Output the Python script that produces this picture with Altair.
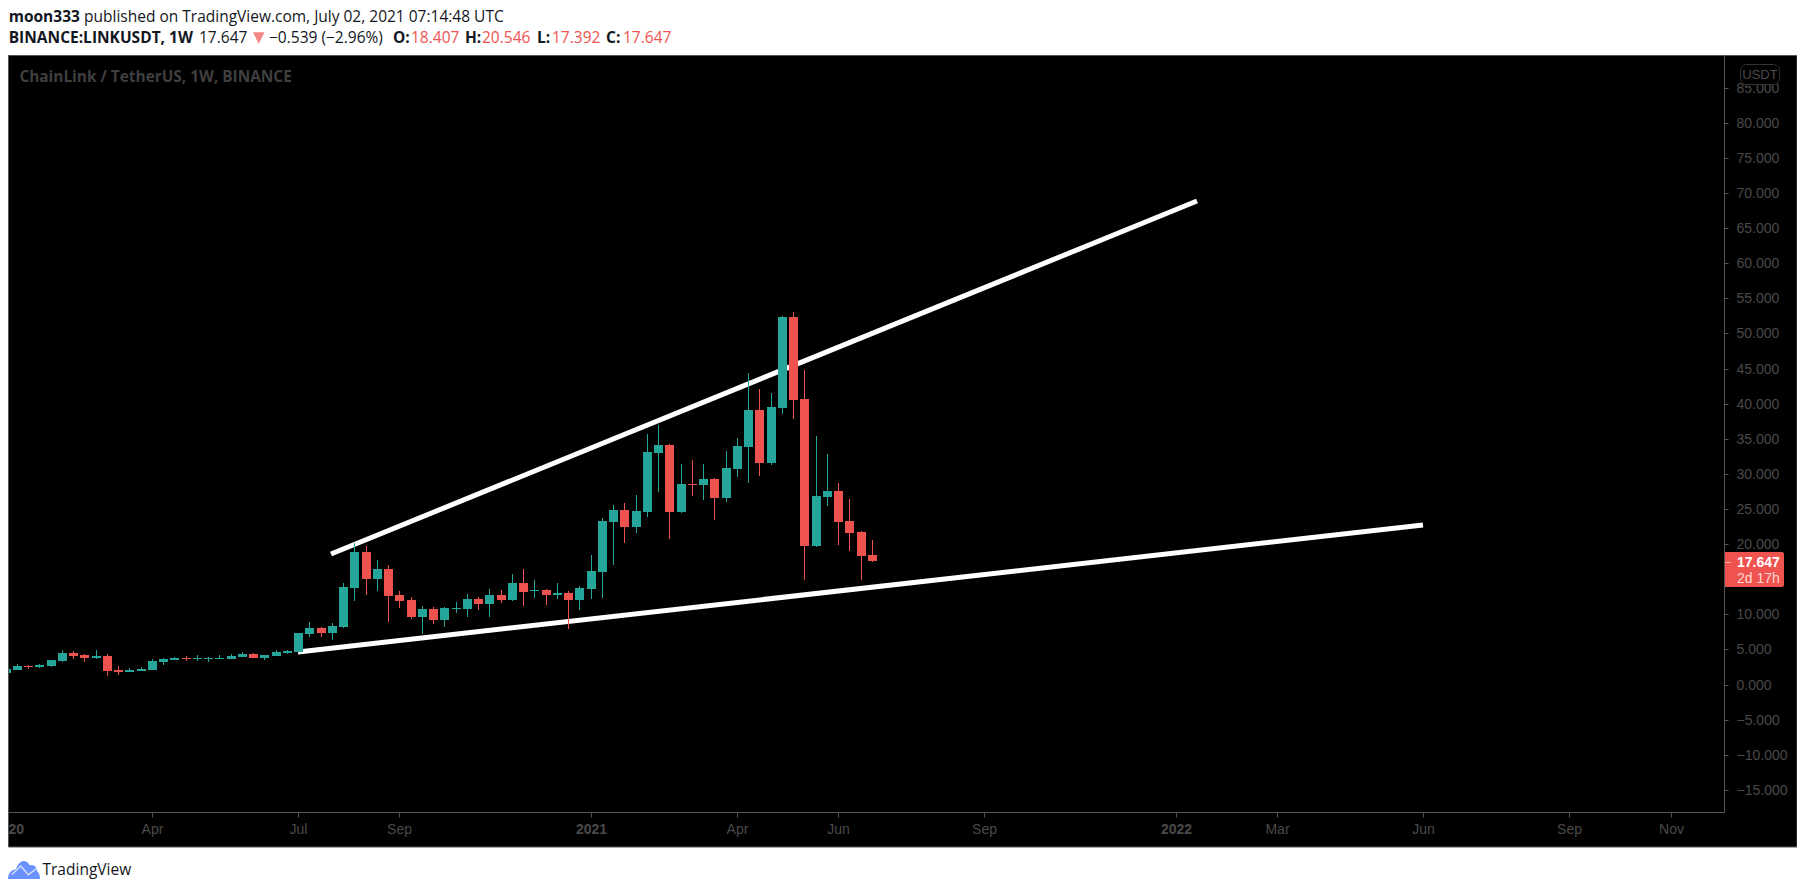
import altair as alt
import pandas as pd

week = list(range(-1, 77))
opens = [1.64,2.07,2.68,2.49,2.64,3.35,4.49,4.20,3.77,4.06,2.07,1.78,1.92,2.07,3.21,3.49,3.77,3.63,3.63,3.63,3.63,3.92,4.34,3.77,4.06,4.49,4.63,7.19,8.05,7.34,8.19,13.75,18.87,15.03,16.45,12.75,12.04,9.62,10.75,9.19,10.75,10.75,12.18,11.47,12.75,12.04,14.46,13.32,13.46,12.75,13.03,12.04,13.60,16.03,23.15,24.86,22.44,24.57,32.98,34.12,24.57,28.56,28.42,29.27,26.57,30.70,33.83,39.10,31.55,39.39,52.35,40.67,19.73,26.71,27.56,23.29,21.72,18.407]
highs = [2.21,2.92,2.78,2.92,3.49,4.91,4.77,4.34,4.91,4.34,2.64,2.35,2.49,3.63,3.77,3.92,4.06,4.20,3.92,4.20,4.34,4.63,4.49,4.20,4.91,4.91,7.34,8.90,8.19,8.76,14.46,20.11,19.73,17.73,17.02,13.32,12.46,11.18,11.04,11.04,11.75,12.89,12.46,13.60,13.46,15.74,16.45,14.89,13.60,14.46,13.32,14.03,18.45,23.72,25.57,25.85,26.99,35.68,36.97,34.26,31.41,31.98,31.41,29.42,33.26,35.11,44.37,42.09,41.52,52.49,53.06,44.80,35.40,32.83,28.70,26.42,21.87,20.546]
lows = [1.64,2.07,2.21,2.35,2.49,3.21,3.63,3.21,3.63,1.21,1.35,1.78,1.92,2.07,2.78,3.49,3.35,3.35,3.21,3.63,3.63,3.92,3.77,3.49,4.06,4.34,4.63,6.77,6.77,6.34,8.05,11.89,12.75,13.32,8.90,10.90,9.33,7.19,8.62,8.19,10.19,9.62,10.61,9.62,11.61,11.89,11.18,12.32,11.32,12.18,7.91,10.61,12.18,12.32,17.02,20.16,21.58,23.86,27.42,20.73,24.43,26.85,26.28,23.43,26.00,29.56,28.70,29.70,31.27,38.53,37.82,14.89,19.59,25.43,19.87,19.02,14.89,17.392]
closes = [2.21,2.64,2.49,2.78,3.49,4.49,4.06,3.77,4.06,1.92,1.78,2.07,2.21,3.35,3.63,3.77,3.63,3.77,3.77,3.77,4.06,4.34,3.77,4.20,4.63,4.77,7.34,8.05,7.34,8.33,13.89,18.87,15.03,16.45,12.61,11.89,9.62,10.75,9.19,10.90,10.90,12.18,11.47,12.75,12.04,14.46,13.18,13.46,12.75,13.03,12.04,13.75,16.17,23.29,24.86,22.44,24.72,33.12,34.12,24.57,28.56,28.42,29.27,26.57,30.84,33.97,39.10,31.55,39.53,52.35,40.53,19.73,26.85,27.56,23.15,21.58,18.30,17.647]

candles = pd.DataFrame({"i": week, "o": opens, "h": highs, "l": lows, "c": closes})
candles["dir"] = ["up" if c >= o else "down" for o, c in zip(candles.o, candles.c)]

trend_start_i = [27.94, 24.98]
trend_start_p = [18.59, 4.63]
trend_end_i = [104.92, 124.97]
trend_end_p = [68.83, 22.76]
trends = pd.DataFrame({"i": trend_start_i, "p": trend_start_p, "i2": trend_end_i, "p2": trend_end_p})

x_ticks = [-0.79, 12, 25, 34, 51, 64, 73, 86, 103, 112, 125, 138, 147]
x_labels = ["2020", "Apr", "Jul", "Sep", "2021", "Apr", "Jun", "Sep", "2022", "Mar", "Jun", "Sep", "Nov"]
bold_ticks = [-0.79, 51, 103]
y_ticks = [-15, -10, -5, 0, 5, 10, 15, 20, 25, 30, 35, 40, 45, 50, 55, 60, 65, 70, 75, 80, 85]

AXIS_GREY = "#555555"
LABEL_GREY = "#4a4a4a"
UP = "#26a69a"
DOWN = "#ef5350"
INK = "#131722"
FONT = "Open Sans"
AXFONT = "Liberation Sans"

label_expr_x = "[" + ",".join(f"'{s}'" for s in x_labels) + "][indexof([" + ",".join(str(v) for v in x_ticks) + "],datum.value)]"
x_scale = alt.Scale(domain=[-0.791, 151.74], nice=False, zero=False, round=True, padding=0)
y_scale = alt.Scale(domain=[-18.16, 89.67], nice=False, zero=False, round=True)
x_axis = alt.Axis(
    values=x_ticks, labelExpr=label_expr_x, title=None, grid=False, domainColor=AXIS_GREY, tickColor=AXIS_GREY,
    tickSize=5, labelColor=LABEL_GREY, labelFont=AXFONT, labelFontSize=14, labelPadding=5, labelFlush=False,
    labelOverlap=False, labelBound=False,
    labelFontWeight=alt.condition("indexof([" + ",".join(str(v) for v in bold_ticks) + "],datum.value)>=0", alt.value("bold"), alt.value("normal")),
)
y_axis = alt.Axis(
    orient="right", values=y_ticks, title=None, grid=False, domainColor=AXIS_GREY, tickColor=AXIS_GREY,
    tickSize=4, labelColor=LABEL_GREY, labelFont=AXFONT, labelFontSize=14, labelPadding=8,
    labelExpr="replace(format(datum.value,'.3f'),'-','\u2212')", labelOverlap=False, labelBound=False, labelFlush=False,
)
X = alt.X("i:Q", scale=x_scale, axis=x_axis)
Y_O = alt.Y("o:Q", scale=y_scale, axis=y_axis)
Y_H = alt.Y("h:Q", scale=y_scale, axis=y_axis)
COLOR = alt.Color("dir:N", scale=alt.Scale(domain=["up", "down"], range=[UP, DOWN]), legend=None)

one = pd.DataFrame({"k": [0]})


def box(x0, x1, y0, y1, **kw):
    return alt.Chart(one).mark_rect(**kw).encode(
        x=alt.value(x0 - 8), x2=alt.value(x1 - 8), y=alt.value(y0 - 55), y2=alt.value(y1 - 55))


def txt(label, x, y, color=INK, weight="normal", size=15.5, font=FONT, align="left"):
    d = pd.DataFrame({"t": [label]})
    return alt.Chart(d).mark_text(
        align=align, baseline="middle", color=color, fontWeight=weight, fontSize=size, font=font
    ).encode(x=alt.value(x - 8), y=alt.value(y - 55), text="t:N")


def glyph(path, x, y, size, **kw):
    return alt.Chart(one).mark_point(shape=path, size=size, **kw).encode(x=alt.value(x - 8), y=alt.value(y - 55))


trend_layer = alt.Chart(trends).mark_rule(color="white", strokeWidth=5, strokeCap="butt").encode(
    x=X, x2="i2:Q", y=alt.Y("p:Q", scale=y_scale, axis=y_axis), y2="p2:Q")
wicks = alt.Chart(candles).mark_rule(strokeWidth=1, xOffset=0.5).encode(x=X, y=Y_H, y2="l:Q", color=COLOR)
bodies = alt.Chart(candles).mark_bar(size=9, xOffset=0.5).encode(x=X, y=Y_O, y2="c:Q", color=COLOR)

WHITE = "#ffffff"
cloud = "M-1 0.56 C-1 0.1 -0.72 0 -0.5 -0.05 C-0.4 -0.4 -0.15 -0.56 0 -0.56 C0.15 -0.56 0.3 -0.42 0.35 -0.3 C0.7 -0.35 0.85 -0.1 0.82 0.1 C0.95 0.2 1 0.35 1 0.56 Z"
spark = "M-0.77 0.3 L-0.2 -0.25 L0.27 0.3 L0.9 -0.18"

layers = [
    trend_layer, wicks, bodies,
    box(8, 1798, 8, 55, fill=WHITE),
    box(8, 1798, 847, 895, fill=WHITE),
    box(8.5, 1797, 55.5, 847, fill="transparent", stroke=AXIS_GREY, strokeWidth=1),
    box(1725, 1784, 552, 587, fill=DOWN, cornerRadiusTopRight=2, cornerRadiusBottomRight=2),
    box(1725, 1731, 562, 563, fill="#ffb3b0"),
    box(1740.5, 1779.5, 64.5, 84.5, fill="#000000", stroke="#333333", strokeWidth=1, cornerRadius=6),
    txt("USDT", 1760, 75, color=LABEL_GREY, size=13, font=AXFONT, align="center"),
    txt("17.647", 1737, 562.5, color="#ffffff", size=14, font=AXFONT, weight="bold"),
    txt("2d 17h", 1737, 579, color="#ffd6d4", size=14, font=AXFONT),
    txt("ChainLink / TetherUS, 1W, BINANCE", 19.4, 77, color="#3f3f3f", size=15.4, weight="bold"),
    txt("moon333", 8.7, 17, weight="bold"),
    txt("published on TradingView.com, July 02, 2021 07:14:48 UTC", 84, 17),
    txt("BINANCE:LINKUSDT, 1W", 8.7, 38, weight="bold"),
    txt("17.647", 199, 38),
    glyph("M-1 -1 L1 -1 L0 1 Z", 258.7, 38, 130, fill=DOWN, filled=True, stroke=None),
    txt("\u22120.539 (\u22122.96%)", 269, 38),
    txt("O:", 393, 38, weight="bold"),
    txt("18.407", 411, 38, color=DOWN),
    txt("H:", 465, 38, weight="bold"),
    txt("20.546", 482, 38, color=DOWN),
    txt("L:", 537, 38, weight="bold"),
    txt("17.392", 552, 38, color=DOWN),
    txt("C:", 606, 38, weight="bold"),
    txt("17.647", 623, 38, color=DOWN),
    glyph(cloud, 24, 870, 1024, fill="#2962ff", filled=True, stroke=None),
    glyph(spark, 24, 870, 1024, filled=False, stroke="#ffffff", strokeWidth=1.5),
    txt("TradingView", 42.5, 870, color=INK, size=15.5, font="Open Sans"),
]

chart = alt.layer(*layers).properties(
    width=1716, height=757, background="#000000",
    padding={"left": 0, "top": 47, "right": 73, "bottom": 70},
    autosize=alt.AutoSizeParams(type="none"),
).configure_view(stroke=None, fill="#000000")

chart.save("out.html", embed_options={"renderer": "svg", "actions": False})
